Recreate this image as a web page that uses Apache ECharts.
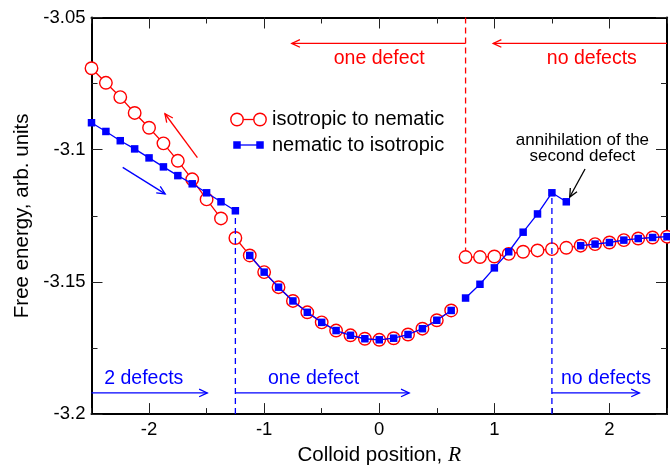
<!DOCTYPE html>
<html>
<head>
<meta charset="utf-8">
<script src="https://cdn.jsdelivr.net/npm/echarts@6/dist/echarts.min.js"></script>
<style>
  html, body { margin: 0; padding: 0; background: #fff; }
  #chart { width: 670px; height: 471px; }
</style>
</head>
<body>
<div id="chart"></div>
<script>
// ---------------- data ----------------
const colloidR = [-2.5,-2.375,-2.25,-2.125,-2,-1.875,-1.75,-1.625,-1.5,-1.375,-1.25,
  -1.125,-1,-0.875,-0.75,-0.625,-0.5,-0.375,-0.25,-0.125,0,0.125,0.25,0.375,0.5,0.625,
  0.75,0.875,1,1.125,1.25,1.375,1.5,1.625,1.75,1.875,2,2.125,2.25,2.375,2.5];

const isotropicToNematic = [-3.0692,-3.0747,-3.0801,-3.0861,-3.0917,-3.0976,-3.1042,-3.1112,-3.1188,-3.1260,
  -3.1334,-3.1400,-3.1463,-3.1520,-3.1572,-3.1615,-3.1653,-3.1684,-3.1702,-3.1715,-3.1719,-3.1713,-3.1699,-3.1677,-3.1645,-3.1608,
  -3.1406,-3.1406,-3.1404,-3.1394,-3.1386,-3.1381,-3.1376,-3.1371,-3.1363,-3.1357,-3.1351,-3.1342,-3.1336,-3.1332,-3.1329];

const nematicToIsotropic = [-3.0898,-3.0931,-3.0966,-3.0997,-3.1031,-3.1065,-3.1098,-3.1129,-3.1163,-3.1197,-3.1231,
  -3.1400,-3.1463,-3.1520,-3.1572,-3.1615,-3.1653,-3.1684,-3.1702,-3.1715,-3.1719,-3.1713,-3.1699,-3.1677,-3.1645,-3.1608,
  -3.1561,-3.1509,-3.1447,-3.1386,-3.1312,-3.1243,-3.1163,-3.1197,
  -3.1363,-3.1357,-3.1351,-3.1342,-3.1336,-3.1332,-3.1329];

// R values after which the curve is broken (jumps)
const isoToNemBreaksAfter = [-1.375, 0.625];
const nemToIsoBreaksAfter = [-1.25, 0.625, 1.625];
// R positions of the dashed vertical jump markers
const isoToNemJumpAt = [0.75];
const nemToIsoJumpAt = [-1.25, 1.5];

const xTickLabels = [-2, -1, 0, 1, 2];
const yTickLabels = ['-3.2', '-3.15', '-3.1', '-3.05'];
const yTickValues = [-3.2, -3.15, -3.1, -3.05];

const seriesNames = ['isotropic to nematic', 'nematic to isotropic'];

// annotations (data coordinates)
const arrowFrom = [[0.75,-3.0598],[2.5,-3.0598],[-1.580,-3.1030],[-2.229,-3.1067],[1.788,-3.1073],[-2.5,-3.1920],[-1.25,-3.1920],[1.5,-3.1920]];
const arrowTo   = [[-0.76,-3.0598],[0.99,-3.0598],[-1.862,-3.0864],[-1.860,-3.1167],[1.655,-3.1179],[-1.494,-3.1920],[0.26,-3.1920],[2.26,-3.1920]];
const arrowColors = ['#ff0000','#ff0000','#ff0000','#0000ff','#000000','#0000ff','#0000ff','#0000ff'];

const noteTexts = ['one defect', 'no defects', '2 defects', 'one defect', 'no defects', 'annihilation of the\nsecond defect'];
const notePos = [[0.0,-3.0655],[1.847,-3.0655],[-2.046,-3.1866],[-0.571,-3.1866],[1.970,-3.1866],[1.765,-3.0995]];
const noteColors = ['#ff0000','#ff0000','#0000ff','#0000ff','#0000ff','#000000'];
const noteSizes = [19.5, 19.5, 19.5, 19.5, 19.5, 17];

// ---------------- helpers ----------------
const FONT = '"Liberation Sans", Arial, Helvetica, sans-serif';
const RED = '#ff0000', BLUE = '#0000ff';

function segments(xs, ys, breaksAfter) {
  const out = [];
  let cur = [];
  xs.forEach((x, i) => {
    cur.push([x, ys[i]]);
    if (breaksAfter.includes(x)) { out.push(cur); cur = []; }
  });
  if (cur.length) out.push(cur);
  return out;
}
function valueAt(xs, ys, x) { return ys[xs.indexOf(x)]; }

const series = [];

// red dashed jump lines (from top of axis down to the point)
isoToNemJumpAt.forEach(x => {
  series.push({
    type: 'line', silent: true, z: 1, symbol: 'none', clip: false,
    data: [[x, -3.05], [x, valueAt(colloidR, isotropicToNematic, x)]],
    lineStyle: { color: RED, width: 1.3, type: [6, 4] }
  });
});

// red series (open circles)
segments(colloidR, isotropicToNematic, isoToNemBreaksAfter).forEach(seg => {
  series.push({
    name: seriesNames[0], type: 'line', silent: true, z: 2, clip: false,
    data: seg, symbol: 'circle', symbolSize: 12.5, showAllSymbol: true,
    itemStyle: { color: '#ffffff', borderColor: RED, borderWidth: 1.4 },
    lineStyle: { color: RED, width: 1.3 }
  });
});

// blue dashed jump lines (from bottom axis up to the point)
nemToIsoJumpAt.forEach(x => {
  series.push({
    type: 'line', silent: true, z: 3, symbol: 'none', clip: false,
    data: [[x, -3.2], [x, valueAt(colloidR, nematicToIsotropic, x)]],
    lineStyle: { color: BLUE, width: 1.3, type: [6, 4] }
  });
});

// blue series (filled squares)
segments(colloidR, nematicToIsotropic, nemToIsoBreaksAfter).forEach(seg => {
  series.push({
    name: seriesNames[1], type: 'line', silent: true, z: 4, clip: false,
    data: seg, symbol: 'rect', symbolSize: 7.5, showAllSymbol: true,
    itemStyle: { color: BLUE },
    lineStyle: { color: BLUE, width: 1.3 }
  });
});

// arrows
series.push({
  type: 'custom', silent: true, z: 5, clip: false,
  data: arrowFrom.map((f, i) => [f[0], f[1], arrowTo[i][0], arrowTo[i][1]]),
  renderItem: function (params, api) {
    const p1 = api.coord([api.value(0), api.value(1)]);
    const p2 = api.coord([api.value(2), api.value(3)]);
    const color = arrowColors[params.dataIndex];
    const dx = p2[0] - p1[0], dy = p2[1] - p1[1];
    const len = Math.sqrt(dx * dx + dy * dy);
    const ux = dx / len, uy = dy / len;
    const L = 9, a = 25 * Math.PI / 180;
    const rot = (x, y, t) => [x * Math.cos(t) - y * Math.sin(t), x * Math.sin(t) + y * Math.cos(t)];
    const r1 = rot(ux, uy, a), r2 = rot(ux, uy, -a);
    return {
      type: 'group',
      children: [
        { type: 'line', shape: { x1: p1[0], y1: p1[1], x2: p2[0], y2: p2[1] },
          style: { stroke: color, lineWidth: 1.3 } },
        { type: 'polyline', shape: { points: [[p2[0] - L * r1[0], p2[1] - L * r1[1]], [p2[0], p2[1]], [p2[0] - L * r2[0], p2[1] - L * r2[1]]] },
          style: { stroke: color, fill: null, lineWidth: 1.3 } }
      ]
    };
  }
});

// annotation texts
series.push({
  type: 'custom', silent: true, z: 6, clip: false,
  data: notePos.map(p => [p[0], p[1]]),
  renderItem: function (params, api) {
    const p = api.coord([api.value(0), api.value(1)]);
    const i = params.dataIndex;
    return {
      type: 'text', x: p[0], y: p[1],
      style: {
        text: noteTexts[i], fill: noteColors[i],
        fontSize: noteSizes[i], fontFamily: FONT,
        lineHeight: 16,
        align: 'center', verticalAlign: 'middle',
        textAlign: 'center', textVerticalAlign: 'middle'
      }
    };
  }
});

// ---------------- axes ----------------
const axisLineStyle = { show: true, onZero: false, lineStyle: { color: '#000', width: 2 } };
const tickLine = { color: '#222', width: 1 };

function xAxisPair(position, withLabels) {
  const minorAxis = {
    type: 'value', position: position, min: -2.5, max: 2.5, interval: 0.5,
    axisLine: axisLineStyle,
    axisTick: { show: true, inside: true, length: 6, lineStyle: tickLine },
    splitLine: { show: false },
    axisLabel: withLabels ? {
      show: true, color: '#000', fontSize: 18.5, fontFamily: FONT, margin: 6,
      formatter: v => (xTickLabels.indexOf(v) >= 0 ? String(v) : '')
    } : { show: false }
  };
  if (withLabels) {
    minorAxis.name = 'Colloid position, {it|R}';
    minorAxis.nameLocation = 'middle';
    minorAxis.nameGap = 23;
    minorAxis.nameTextStyle = {
      color: '#000', fontSize: 20.5, fontFamily: FONT,
      rich: { it: { color: '#000', fontSize: 21.5, fontFamily: '"Liberation Serif", "Times New Roman", serif', fontStyle: 'italic' } }
    };
  }
  const majorAxis = {
    type: 'value', position: position, min: -2.5, max: 2.5,
    axisLine: { show: false, onZero: false },
    axisTick: { show: true, inside: true, length: 11, lineStyle: tickLine, customValues: xTickLabels },
    axisLabel: { show: false },
    splitLine: { show: false }
  };
  return [minorAxis, majorAxis];
}

function yAxisDef(position, withLabels) {
  const ax = {
    type: 'value', position: position, min: -3.2, max: -3.05, interval: 0.05,
    axisLine: axisLineStyle,
    axisTick: { show: true, inside: true, length: 11, lineStyle: tickLine },
    minorTick: { show: true, splitNumber: 2, length: 6, lineStyle: tickLine },
    splitLine: { show: false },
    minorSplitLine: { show: false },
    axisLabel: withLabels ? {
      show: true, color: '#000', fontSize: 18.5, fontFamily: FONT, margin: 6,
      formatter: v => {
        let best = 0;
        yTickValues.forEach((t, i) => { if (Math.abs(t - v) < Math.abs(yTickValues[best] - v)) best = i; });
        return yTickLabels[best];
      }
    } : { show: false }
  };
  if (withLabels) {
    ax.name = 'Free energy, arb. units';
    ax.nameLocation = 'middle';
    ax.nameGap = 58;
    ax.nameRotate = 90;
    ax.nameTextStyle = { color: '#000', fontSize: 20.5, fontFamily: FONT };
  }
  return ax;
}

const xAxes = [...xAxisPair('bottom', true), ...xAxisPair('top', false)];
const yAxes = [yAxisDef('left', true), yAxisDef('right', false)];

// ---------------- legend (drawn) ----------------
const graphic = [
  { type: 'line', shape: { x1: 237, y1: 119.5, x2: 260, y2: 119.5 }, style: { stroke: RED, lineWidth: 1.3 }, silent: true },
  { type: 'circle', shape: { cx: 237, cy: 119.5, r: 6.2 }, style: { fill: '#fff', stroke: RED, lineWidth: 1.4 }, silent: true },
  { type: 'circle', shape: { cx: 260, cy: 119.5, r: 6.2 }, style: { fill: '#fff', stroke: RED, lineWidth: 1.4 }, silent: true },
  { type: 'text', x: 272, y: 119.5, style: { text: seriesNames[0], fill: '#000', fontSize: 20, fontFamily: FONT, verticalAlign: 'middle' }, silent: true },
  { type: 'line', shape: { x1: 237, y1: 145, x2: 260, y2: 145 }, style: { stroke: BLUE, lineWidth: 1.3 }, silent: true },
  { type: 'rect', shape: { x: 233.25, y: 141.25, width: 7.5, height: 7.5 }, style: { fill: BLUE }, silent: true },
  { type: 'rect', shape: { x: 256.25, y: 141.25, width: 7.5, height: 7.5 }, style: { fill: BLUE }, silent: true },
  { type: 'text', x: 272, y: 145, style: { text: seriesNames[1], fill: '#000', fontSize: 20, fontFamily: FONT, verticalAlign: 'middle' }, silent: true }
];

const chart = echarts.init(document.getElementById('chart'), null, { renderer: 'canvas' });
chart.setOption({
  animation: false,
  backgroundColor: '#ffffff',
  grid: { left: 91.5, right: 0, top: 17.5, bottom: 48.3 },
  xAxis: xAxes,
  yAxis: yAxes,
  series: series.map(s => Object.assign({ xAxisIndex: 0, yAxisIndex: 0 }, s)),
  graphic: graphic
});
</script>
</body>
</html>
